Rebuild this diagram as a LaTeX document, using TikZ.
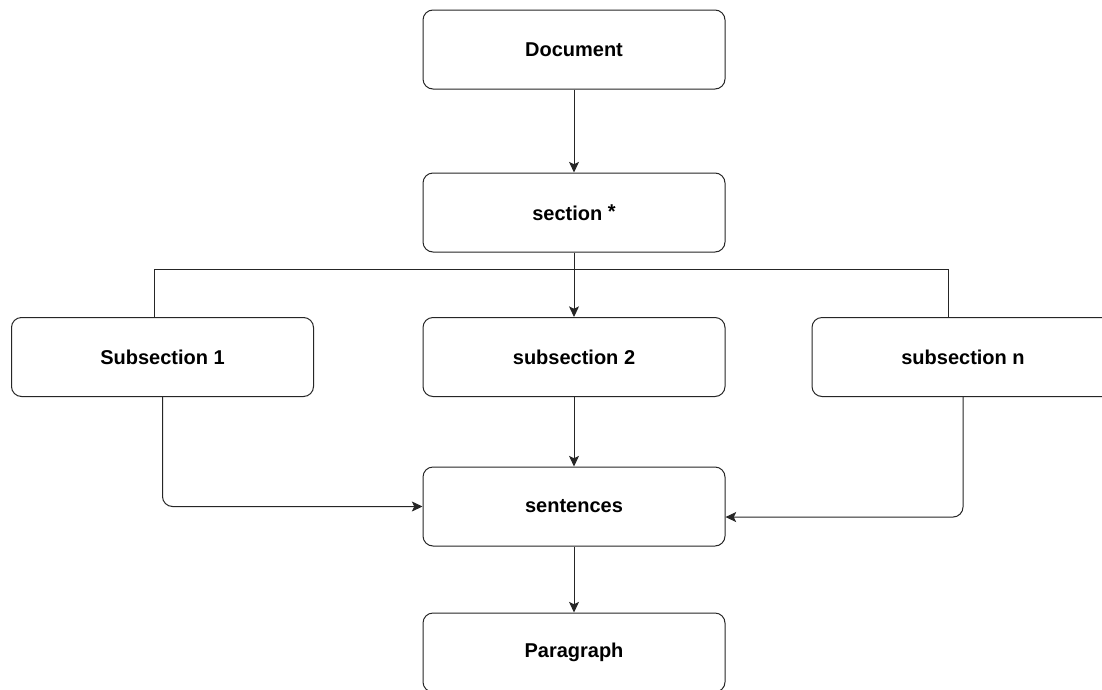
\documentclass[tikz,border=0pt]{standalone}
\usepackage{fontspec}
\setmainfont{Liberation Sans}
\usetikzlibrary{arrows.meta}
\begin{document}
\begin{tikzpicture}[x=0.75pt,y=-0.75pt,
  box/.style={draw=black!85, line width=0.75pt, rounded corners=7.5pt, fill=white,
    minimum width=226.5pt, minimum height=59.25pt, inner sep=0pt,
    font=\fontsize{15}{17}\selectfont\bfseries},
  conn/.style={draw=black!85, line width=0.75pt},
  arr/.style={conn, -{Stealth[length=8pt,width=7.5pt,inset=1.8pt]}}]
\useasboundingbox (0,0) rectangle (1102,689);
\clip (0,0) rectangle (1102,689);
\fill[white] (0,0) rectangle (1102,689);

\node[box] (doc)  at (574,49.5)  {Document};
\node[box] (sec)  at (574,212.5) {section \raisebox{1.5pt}{*}};
\node[box] (sub1) at (162.5,357) {Subsection 1};
\node[box] (sub2) at (574,357)   {subsection 2};
\node[box] (subn) at (963,357)   {subsection n};
\node[box] (sent) at (574,506.5) {sentences};
\node[box] (para) at (574,652.5) {Paragraph};

\coordinate (bl) at (154,269);
\coordinate (br) at (948,269);

\draw[arr] (doc.south) -- (sec.north);
\draw[arr] (sec.south) -- (sub2.north);
\draw[conn] (sub1.north -| bl) -- (bl) -- (br) -- (subn.north -| br);
\draw[arr, rounded corners=7.5pt] (sub1.south) |- (sent.west);
\draw[arr, rounded corners=7.5pt] (subn.south) |- ([yshift=-7.9pt]sent.east);
\draw[arr] (sub2.south) -- (sent.north);
\draw[arr] (sent.south) -- (para.north);
\end{tikzpicture}
\end{document}
